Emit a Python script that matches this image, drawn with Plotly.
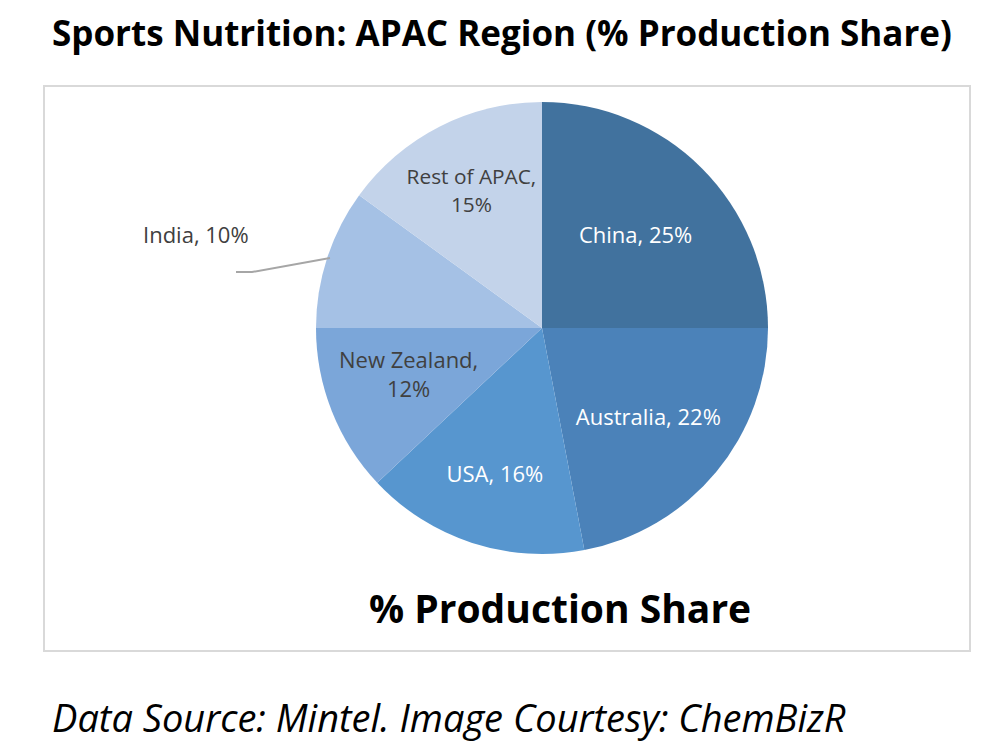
import plotly.graph_objects as go

labels = ["China", "Australia", "USA", "New Zealand", "India", "Rest of APAC"]
values = [25, 22, 16, 12, 10, 15]
colors = ["#41729E", "#4B82B9", "#5796CF", "#7BA6D9", "#A5C1E5", "#C3D3EA"]
text_colors = ["white", "white", "white", "#404040", "#404040", "#404040"]
slice_text = ["China, 25%", "Australia, 22%", "USA, 16%", "", "", "Rest of APAC,<br>15%"]

W, H = 998, 750
OX, OY = 8, 8  # page body offset

def px(x):
    return (x - OX) / W

def py(y):
    return 1 - (y - OY) / H

cx, cy, r = 542, 328, 226

fig = go.Figure()
fig.add_trace(go.Pie(
    labels=labels,
    values=values,
    text=slice_text,
    textinfo="text",
    textposition="inside",
    insidetextorientation="horizontal",
    sort=False,
    direction="clockwise",
    rotation=0,
    marker=dict(colors=colors, line=dict(width=0)),
    textfont=dict(family="Open Sans", size=22, color=text_colors),
    domain=dict(x=[px(cx - r), px(cx + r)], y=[py(cy + r), py(cy - r)]),
    showlegend=False,
    hoverinfo="label+percent",
))

fig.update_layout(
    width=W, height=H,
    margin=dict(l=0, r=0, t=0, b=0),
    paper_bgcolor="white",
    plot_bgcolor="white",
    shapes=[
        dict(type="rect", xref="paper", yref="paper",
             x0=px(44), x1=px(970), y0=py(651), y1=py(86),
             line=dict(color="#D9D9D9", width=2), layer="below"),
        dict(type="path", xref="paper", yref="paper",
             path=f"M {px(330)},{py(258)} L {px(252)},{py(272)} L {px(236)},{py(272)}",
             line=dict(color="#A6A6A6", width=2)),
    ],
    annotations=[
        dict(text="<b>Sports Nutrition: APAC Region (% Production Share)</b>",
             x=px(502), y=1, xref="paper", yref="paper", showarrow=False,
             xanchor="center", yanchor="top", borderpad=0,
             font=dict(family="Open Sans", size=35, color="black")),
        dict(text=f"{labels[4]}, {values[4]}%", x=px(196), y=py(234), xref="paper", yref="paper",
             showarrow=False, xanchor="center", yanchor="middle",
             font=dict(family="Open Sans", size=22, color="#404040")),
        dict(text=f"{labels[3]},<br>{values[3]}%", x=px(408), y=py(373), xref="paper", yref="paper",
             showarrow=False, xanchor="center", yanchor="middle",
             font=dict(family="Open Sans", size=22, color="#404040")),
        dict(text="<b>% Production Share</b>", x=px(560), y=py(607),
             xref="paper", yref="paper", showarrow=False, xanchor="center", yanchor="middle",
             font=dict(family="Open Sans", size=39, color="black")),
        dict(text="<i>Data Source: Mintel. Image Courtesy: ChemBizR</i>",
             x=px(50), y=py(717), xref="paper", yref="paper", showarrow=False,
             xanchor="left", yanchor="middle",
             font=dict(family="Open Sans", size=38, color="black")),
    ],
)

fig.write_html("out.html")
